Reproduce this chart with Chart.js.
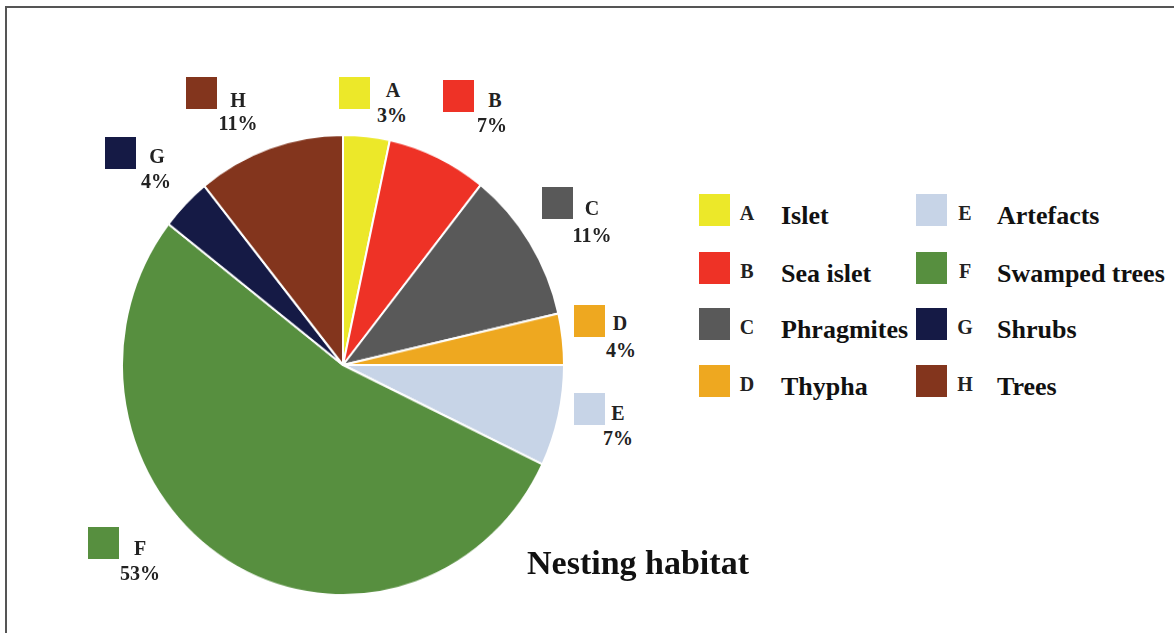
<!DOCTYPE html>
<html><head><meta charset="utf-8">
<script src="https://cdn.jsdelivr.net/npm/chart.js@4.4.0/dist/chart.umd.min.js"></script>
<style>
html,body{margin:0;padding:0;background:#fff;}
#page{position:relative;width:1174px;height:633px;overflow:hidden;background:#fff;font-family:"Liberation Serif","DejaVu Serif",serif;font-weight:bold;}
#frame{position:absolute;left:5px;top:6px;width:1200px;height:700px;border-top:2px solid #555;border-left:2px solid #555;}
#pieWrap{position:absolute;left:121px;top:142.5px;width:444px;height:444px;transform:scaleY(1.041);transform-origin:50% 50%;}
.sq{position:absolute;width:31px;height:32px;}
.c{position:absolute;transform:translate(-50%,-50%);white-space:nowrap;line-height:1;color:#222;}
.n{position:absolute;transform:translateY(-50%);white-space:nowrap;line-height:1;color:#111;font-size:26px;}
</style></head><body>
<div id="page"><div id="frame"></div><div id="pieWrap"><canvas id="pie" width="444" height="444"></canvas></div></div>
<script>
// ---- data ----
const letters  = ['A','B','C','D','E','F','G','H'];
const habitats = ['Islet','Sea islet','Phragmites','Thypha','Artefacts','Swamped trees','Shrubs','Trees'];
const shares   = [3.4, 7.3, 10.7, 3.6, 7.1, 53.4, 3.7, 10.8];
const colours  = ['#ECE829','#EE3226','#595959','#EEA820','#C7D4E7','#578F3F','#151A45','#83351D'];
const chartTitle = 'Nesting habitat';

// ---- layout (positions only) ----
const calloutSq  = [[339,77],[443,80],[542,187],[574,305],[574,393],[88,527],[105,137],[186,77]];
const calloutLet = [[393,90],[495,100],[592,208],[620,323],[618,413],[140,548],[157,156],[238,100]];
const calloutPct = [[392,115],[492,125],[592,235],[621,350],[618,438],[140,573],[156,181],[238,123]];
const legendCols = [699, 916];
const legendRows = [194, 252, 308, 365];

const page = document.getElementById('page');
function add(cls, x, y, text, extra){
  const d = document.createElement('div');
  d.className = cls;
  d.style.left = x + 'px'; d.style.top = y + 'px';
  if (text !== undefined) d.textContent = text;
  if (extra) Object.assign(d.style, extra);
  page.appendChild(d);
  return d;
}
const total = shares.reduce((a,b)=>a+b,0);
letters.forEach((L,i)=>{
  add('sq', calloutSq[i][0], calloutSq[i][1], undefined, {background:colours[i]});
  add('c', calloutLet[i][0], calloutLet[i][1], L, {fontSize:'20px'});
  add('c', calloutPct[i][0], calloutPct[i][1], Math.round(shares[i]/total*100)+'%', {fontSize:'20px'});
  const col = Math.floor(i/4), row = i%4;
  const x = legendCols[col], y = legendRows[row];
  add('sq', x, y, undefined, {background:colours[i]});
  add('c', x+48 + (col?1:0), y+19, L, {fontSize:'20px'});
  add('n', x+82 + (col?-1:0), y+22, habitats[i]);
});
add('n', 527, 563, chartTitle, {fontSize:'34px', color:'#111'});

new Chart(document.getElementById('pie'), {
  type:'pie',
  data:{labels:letters, datasets:[{data:shares, backgroundColor:colours, borderColor:'#ffffff', borderWidth:2}]},
  options:{responsive:false, animation:false, layout:{padding:0},
    plugins:{legend:{display:false}, tooltip:{enabled:false}}}
});
</script>
</body></html>
